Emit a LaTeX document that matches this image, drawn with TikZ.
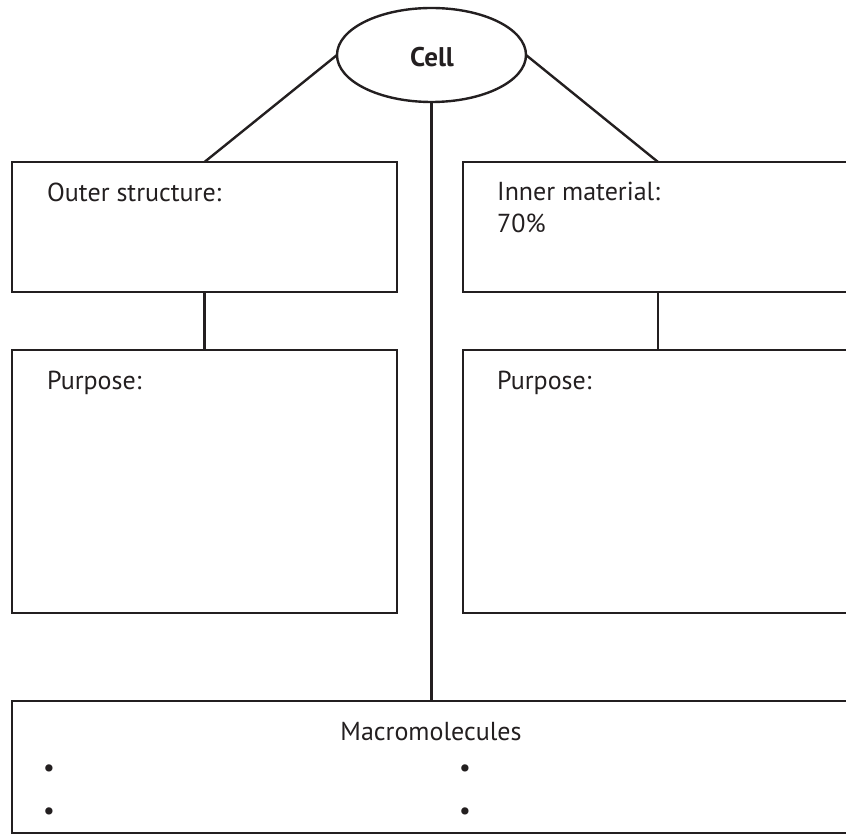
\documentclass[tikz,border=0pt]{standalone}
\usepackage{fontspec}
\setmainfont{PT Sans}
\usetikzlibrary{shapes.geometric}
\definecolor{ink}{HTML}{231F20}
\begin{document}
\begin{tikzpicture}[x=1pt,y=-1pt,
  line/.style={draw=ink,line width=2.4pt},
  box/.style={draw=ink,line width=2.4pt,rectangle,inner sep=0pt,outer sep=0pt,anchor=north west},
  lbl/.style={text=ink,inner sep=0pt,anchor=base west,font=\fontsize{26}{30}\selectfont},
  bul/.style={text=ink,inner sep=0pt,anchor=base,font=\fontsize{26}{30}\selectfont}]
\useasboundingbox (0,0) rectangle (846,834);
\clip (0,0) rectangle (846,834);
% ellipse
\node[ellipse,draw=ink,line width=2.4pt,minimum width=189pt,minimum height=94pt,inner sep=0pt,outer sep=0pt] (cell) at (431.5,55) {};
\node[text=ink,inner sep=0pt,anchor=base,font=\fontsize{27}{30}\selectfont\bfseries] (celltxt) at (432,67) {Cell};
% boxes
\node[box,minimum width=385pt,minimum height=130pt] (outer) at (12,162) {};
\node[box,minimum width=385pt,minimum height=263pt] (purl) at (12,350) {};
\node[box,minimum width=390pt,minimum height=130pt] (inner) at (463,162) {};
\node[box,minimum width=390pt,minimum height=263pt] (purr) at (463,350) {};
\node[box,minimum width=860pt,minimum height=132pt] (macro) at (12,701) {};
% texts
\node[lbl] (t1) at (47,202) {Outer structure:};
\node[lbl] (t2) at (497,201) {Inner material:};
\node[lbl] (t3) at (497,233) {70\%};
\node[lbl] (t4) at (47,389) {Purpose:};
\node[lbl] (t5) at (497,389) {Purpose:};
\node[bul] (t6) at (431,740) {Macromolecules};
\node[bul] (b1) at (49,776) {•};
\node[bul] (b2) at (49,819) {•};
\node[bul] (b3) at (465,776) {•};
\node[bul] (b4) at (465,819) {•};
% connectors
\draw[line] (cell.west) -- (outer.north);
\draw[line] (cell.east) -- (inner.north);
\draw[line] (outer.south) -- (purl.north);
\draw[line] (inner.south) -- (purr.north);
\draw[line] (cell.south) -- (cell.south |- macro.north);
\end{tikzpicture}
\end{document}
